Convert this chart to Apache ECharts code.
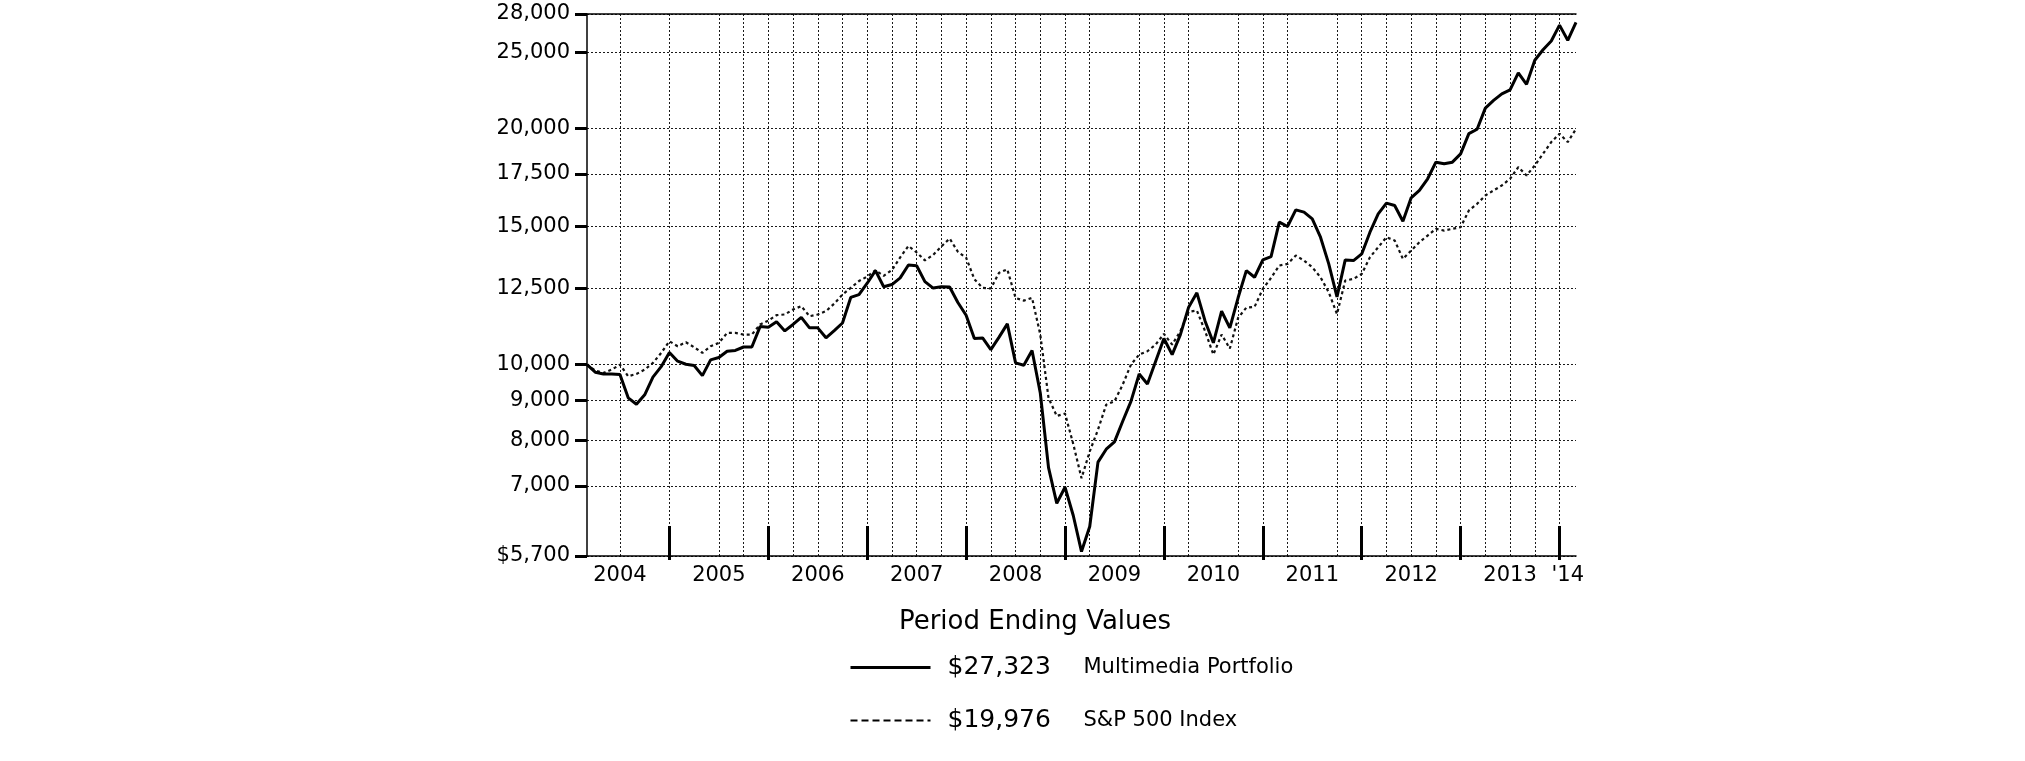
<!DOCTYPE html>
<html>
<head>
<meta charset="utf-8">
<script src="https://cdn.jsdelivr.net/npm/echarts@6/dist/echarts.min.js"></script>
<style>
html,body{margin:0;padding:0;background:#ffffff;}
#chart{width:2025px;height:761px;}
</style>
</head>
<body>
<div id="chart"></div>
<script>
// Monthly period ends, Feb 2004 .. Feb 2014
const months = (function () {
  const a = [];
  for (let k = 0; k <= 120; k++) {
    const m = 1 + k;
    const y = 2004 + Math.floor(m / 12);
    const mm = (m % 12) + 1;
    a.push(y + '-' + String(mm).padStart(2, '0'));
  }
  return a;
})();

const portfolio = [
  10000, 9780, 9730, 9730, 9710, 9070, 8900, 9150, 9640, 9940,
  10360, 10100, 10010, 9975, 9680, 10140, 10210, 10400, 10425, 10530,
  10530, 11180, 11160, 11340, 11040, 11250, 11490, 11140, 11140, 10820,
  11050, 11300, 12180, 12280, 12700, 13180, 12570, 12650, 12900, 13400,
  13370, 12760, 12520, 12570, 12560, 12000, 11560, 10800, 10815, 10450,
  10840, 11270, 10050, 9980, 10420, 9200, 7390, 6654, 6975, 6420,
  5775, 6215, 7510, 7800, 7970, 8466, 8977, 9729, 9447, 10098,
  10795, 10299, 10921, 11837, 12346, 11360, 10660, 11697, 11140, 12167,
  13180, 12924, 13599, 13734, 15192, 15000, 15753, 15647, 15342, 14536,
  13440, 12200, 13599, 13573, 13840, 14752, 15570, 16065, 15955, 15237,
  16318, 16676, 17259, 18121, 18033, 18121, 18570, 19706, 19958, 21240,
  21722, 22149, 22410, 23550, 22773, 24441, 25211, 25866, 27102, 25917,
  27323
];

const sp500 = [
  10000, 9825, 9758, 9854, 10000, 9663, 9729, 9854, 10049, 10349,
  10710, 10554, 10679, 10523, 10349, 10554, 10658, 10975, 10975, 10921,
  10921, 11248, 11380, 11563, 11586, 11757, 11872, 11527, 11586, 11700,
  11960, 12284, 12527, 12780, 12950, 13190, 12980, 13200, 13700, 14170,
  13900, 13580, 13800, 14150, 14480, 13930, 13690, 12850, 12530, 12505,
  13097, 13228, 12163, 12067, 12163, 10922, 9066, 8600, 8660, 7920,
  7163, 7749, 8260, 8890, 8978, 9429, 10000, 10299, 10400, 10606,
  10942, 10606, 11030, 11676, 11720, 11030, 10299, 10922, 10482, 11470,
  11820, 11850, 12488, 12900, 13376, 13440, 13774, 13573, 13310, 12924,
  12366, 11601, 12798, 12861, 13050, 13706, 14115, 14536, 14396, 13639,
  13977, 14325, 14609, 14897, 14824, 14897, 14970, 15723, 16034, 16431,
  16676, 16923, 17259, 17859, 17427, 17946, 18573, 19222, 19701, 19222,
  19976
];

const seriesNames = ['Multimedia Portfolio', 'S&P 500 Index'];
const yTicks = [5700, 7000, 8000, 9000, 10000, 12500, 15000, 17500, 20000, 25000, 28000];
const yearLabels = ['2004', '2005', '2006', '2007', '2008', '2009', '2010', '2011', '2012', '2013', "'14"];
const yearLabelMonths = ['2004-06', '2005-06', '2006-06', '2007-06', '2008-06', '2009-06', '2010-06', '2011-06', '2012-06', '2013-06', '2014-01'];
const yearEndMonths = ['2004-12', '2005-12', '2006-12', '2007-12', '2008-12', '2009-12', '2010-12', '2011-12', '2012-12', '2013-12'];
const gridMonths = ['2004-06', '2005-06', '2005-09', '2006-03', '2006-06', '2006-09', '2007-03', '2007-06', '2007-09',
  '2008-03', '2008-06', '2008-09', '2009-03', '2009-09', '2010-03', '2010-09', '2011-03', '2011-09',
  '2012-03', '2012-06', '2012-09', '2013-03', '2013-06', '2013-09'];

const FONT = '"DejaVu Sans", "Liberation Sans", Arial, sans-serif';
const labelMap = {};
yearLabelMonths.forEach((m, i) => { labelMap[m] = yearLabels[i]; });
const yearEndSet = new Set(yearEndMonths);
const gridSet = new Set(gridMonths.concat(yearEndMonths));
const endValues = {};
endValues[seriesNames[0]] = portfolio[portfolio.length - 1];
endValues[seriesNames[1]] = sp500[sp500.length - 1];
const fmt = v => v.toLocaleString('en-US');

const chart = echarts.init(document.getElementById('chart'), null, { renderer: 'canvas' });
const gridStyle = { color: '#1a1a1a', width: 1, type: [2, 2] };

chart.setOption({
  animation: false,
  backgroundColor: '#ffffff',
  textStyle: { fontFamily: FONT, color: '#000' },
  title: {
    text: 'Period Ending Values',
    left: 1030, textAlign: 'center', top: 604,
    textStyle: { fontFamily: FONT, fontSize: 26, fontWeight: 'normal', color: '#000' }
  },
  legend: {
    orient: 'vertical', left: 844, top: 650,
    itemWidth: 80, itemHeight: 10, itemGap: 28,
    itemStyle: { opacity: 0 },
    data: [
      { name: seriesNames[0], lineStyle: { width: 3, type: 'solid', color: '#000' } },
      { name: seriesNames[1], lineStyle: { width: 2, type: [7, 4], color: '#000' } }
    ],
    formatter: name => '{v|$' + fmt(endValues[name]) + '}{n|' + name + '}',
    textStyle: {
      fontFamily: FONT, color: '#000',
      rich: {
        v: { fontFamily: FONT, fontSize: 25, width: 136, padding: [0, 0, 0, 12], color: '#000' },
        n: { fontFamily: FONT, fontSize: 21, color: '#000' }
      }
    }
  },
  grid: { left: 587, right: 449, top: 14, bottom: 205, containLabel: false },
  xAxis: [
    {
      type: 'category', data: months, boundaryGap: false, position: 'bottom',
      axisLine: { show: true, lineStyle: { color: '#000', width: 1.5 } },
      axisTick: {
        show: true, inside: true, length: 30,
        interval: (i, v) => yearEndSet.has(v),
        lineStyle: { color: '#000', width: 3 }
      },
      axisLabel: {
        show: true, interval: (i, v) => labelMap[v] !== undefined,
        formatter: v => labelMap[v] || '',
        fontFamily: FONT, fontSize: 21, color: '#000', margin: 9
      },
      splitLine: { show: true, interval: (i, v) => gridSet.has(v), lineStyle: gridStyle }
    },
    {
      type: 'category', data: months, boundaryGap: false, position: 'top',
      axisLine: { show: true, lineStyle: { color: '#000', width: 1.5 } },
      axisTick: { show: false }, axisLabel: { show: false }, splitLine: { show: false }
    },
    {
      type: 'category', data: months, boundaryGap: false, position: 'bottom',
      axisLine: { show: false },
      axisTick: {
        show: true, inside: false, length: 4,
        interval: (i, v) => yearEndSet.has(v),
        lineStyle: { color: '#000', width: 3 }
      },
      axisLabel: { show: false }, splitLine: { show: false }
    }
  ],
  yAxis: {
    type: 'log', logBase: 10, min: 5700, max: 28000,
    axisLine: { show: true, lineStyle: { color: '#000', width: 1.5 } },
    axisTick: { show: true, inside: false, length: 12, customValues: yTicks, lineStyle: { color: '#000', width: 3 } },
    axisLabel: {
      show: true, customValues: yTicks, margin: 17,
      formatter: v => (Math.round(v) === yTicks[0] ? '$' : '') + fmt(Math.round(v)),
      fontFamily: FONT, fontSize: 21, color: '#000'
    },
    splitLine: { show: true, lineStyle: gridStyle }
  },
  series: [
    {
      name: seriesNames[0], type: 'line', data: portfolio, xAxisIndex: 0,
      symbol: 'none', z: 4,
      itemStyle: { color: '#000' },
      lineStyle: { color: '#000', width: 3 }
    },
    {
      name: seriesNames[1], type: 'line', data: sp500, xAxisIndex: 0,
      symbol: 'none', z: 3,
      itemStyle: { color: '#000' },
      lineStyle: { color: '#111', width: 2.2, type: [3, 3] }
    }
  ]
});
</script>
</body>
</html>
